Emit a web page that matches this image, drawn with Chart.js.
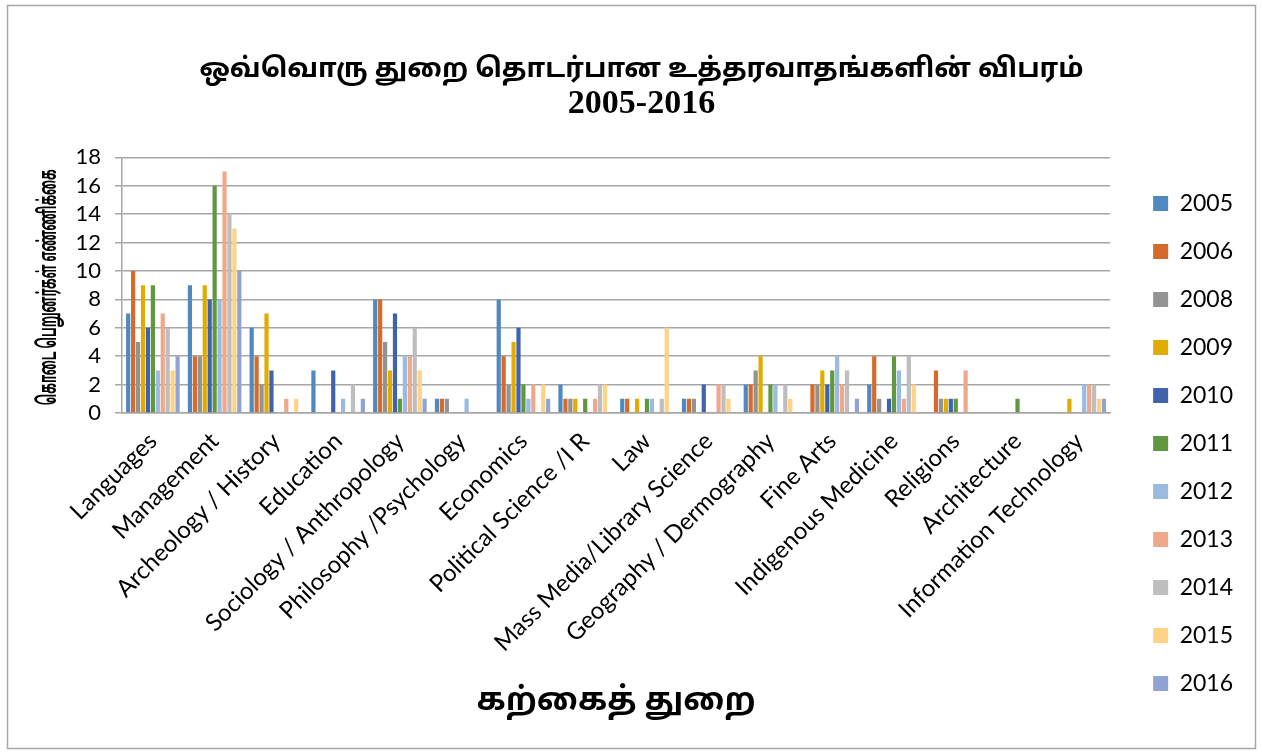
<!DOCTYPE html>
<html>
<head>
<meta charset="utf-8">
<script src="https://cdn.jsdelivr.net/npm/chart.js@4/dist/chart.umd.min.js"></script>
<style>
  body { margin: 0; background: #fff; }
  #wrap { position: relative; width: 1262px; height: 755px; }
</style>
</head>
<body>
<div id="wrap"><canvas id="fieldChart" width="1262" height="755"></canvas></div>
<script>
// categories (x axis)
const categories = [
    'Languages', 'Management', 'Archeology / History', 'Education',
    'Sociology / Anthropology', 'Philosophy /Psychology', 'Economics',
    'Political Science /I R', 'Law', 'Mass Media/Library Science',
    'Geography / Dermography', 'Fine Arts', 'Indigenous Medicine',
    'Religions', 'Architecture', 'Information Technology'
];

const years = ['2005', '2006', '2008', '2009', '2010', '2011', '2012', '2013', '2014', '2015', '2016'];

// one array per year, same order as categories
const y2005 = [7, 9, 6, 3, 8, 1, 8, 2, 1, 1, 2, 0, 2, 0, 0, 0];
const y2006 = [10, 4, 4, 0, 8, 1, 4, 1, 1, 1, 2, 2, 4, 3, 0, 0];
const y2008 = [5, 4, 2, 0, 5, 1, 2, 1, 0, 1, 3, 2, 1, 1, 0, 0];
const y2009 = [9, 9, 7, 0, 3, 0, 5, 1, 1, 0, 4, 3, 0, 1, 0, 1];
const y2010 = [6, 8, 3, 3, 7, 0, 6, 0, 0, 2, 0, 2, 1, 1, 0, 0];
const y2011 = [9, 16, 0, 0, 1, 0, 2, 1, 1, 0, 2, 3, 4, 1, 1, 0];
const y2012 = [3, 8, 0, 1, 4, 1, 1, 0, 1, 0, 2, 4, 3, 0, 0, 2];
const y2013 = [7, 17, 1, 0, 4, 0, 2, 1, 0, 2, 0, 2, 1, 3, 0, 2];
const y2014 = [6, 14, 0, 2, 6, 0, 0, 2, 1, 2, 2, 3, 4, 0, 0, 2];
const y2015 = [3, 13, 1, 0, 3, 0, 2, 2, 6, 1, 1, 0, 2, 0, 0, 1];
const y2016 = [4, 10, 0, 1, 1, 0, 1, 0, 0, 0, 0, 1, 0, 0, 0, 1];

const yearValues = [y2005, y2006, y2008, y2009, y2010, y2011, y2012, y2013, y2014, y2015, y2016];
const yearColors = ['#5089c1', '#d56b2b', '#939393', '#e2ab00', '#3f64ad', '#5f983f',
                    '#9abae0', '#f0a88b', '#bebebe', '#fed386', '#8fa4d4'];

const yTicks = [0, 2, 4, 6, 8, 10, 12, 14, 16, 18];
const yTitle = 'கொடை பெறுனர்கள் எண்ணிக்கை';

const tamilFont = "'Noto Sans Tamil', 'Noto Serif Tamil', 'Lohit Tamil', 'Latha', 'Liberation Serif', serif";
const labelFont = "Lato, 'Open Sans', 'Liberation Sans', sans-serif";

// thin frame round the whole chart
const framePlugin = {
    id: 'frame',
    beforeDraw(chart) {
        const c = chart.ctx;
        c.save();
        c.fillStyle = '#fff';
        c.fillRect(0, 0, chart.width, chart.height);
        c.strokeStyle = '#a6a6a6';
        c.lineWidth = 1.5;
        c.strokeRect(7.5, 5.5, 1248, 743);
        c.restore();
    }
};

// y title in a narrow bold face, squeezed to the plot height like the original
const yTitlePlugin = {
    id: 'yTitle',
    afterDraw(chart) {
        const c = chart.ctx;
        const area = chart.chartArea;
        const midY = (area.top + area.bottom) / 2 + 2;
        c.save();
        c.font = 'bold 25px ' + tamilFont;
        const w = c.measureText(yTitle).width;
        c.translate(51, midY);
        c.rotate(-Math.PI / 2);
        c.scale(236 / w, 1);
        c.fillStyle = '#000';
        c.textAlign = 'center';
        c.textBaseline = 'middle';
        c.fillText(yTitle, 0, 0);
        c.restore();
    }
};

const datasets = years.map((yr, i) => ({
    label: yr,
    data: yearValues[i],
    backgroundColor: yearColors[i],
    borderWidth: 0,
    barPercentage: 0.85,
    categoryPercentage: 0.88
}));

new Chart(document.getElementById('fieldChart').getContext('2d'), {
    type: 'bar',
    data: { labels: categories, datasets },
    plugins: [framePlugin, yTitlePlugin],
    options: {
        responsive: false,
        animation: false,
        layout: { padding: { top: 20, left: 40, right: 19, bottom: 35 } },
        plugins: {
            title: {
                display: true,
                text: 'ஒவ்வொரு துறை தொடர்பான உத்தரவாதங்களின் விபரம்',
                color: '#000',
                font: { family: tamilFont, size: 27, weight: 'bold', lineHeight: 1.1 },
                padding: { top: 37, bottom: 0 }
            },
            subtitle: {
                display: true,
                text: '2005-2016',
                color: '#000',
                font: { family: "'Liberation Serif', serif", size: 34, weight: 'bold', lineHeight: 1.05 },
                padding: { top: 0, bottom: 35 }
            },
            legend: {
                position: 'right',
                align: 'end',
                labels: {
                    color: '#000',
                    boxWidth: 15,
                    boxHeight: 15,
                    padding: 25,
                    font: { family: labelFont, size: 23 }
                }
            },
            tooltip: { enabled: false }
        },
        scales: {
            x: {
                grid: { display: false },
                border: { color: '#a6a6a6', width: 1.5 },
                afterFit: axis => { axis.height = 307; },
                ticks: {
                    color: '#000',
                    minRotation: 45,
                    maxRotation: 45,
                    autoSkip: false,
                    padding: 6,
                    font: { family: labelFont, size: 24 }
                },
                title: {
                    display: true,
                    text: 'கற்கைத் துறை',
                    color: '#000',
                    font: { family: tamilFont, size: 32, weight: 'bold', lineHeight: 1.0 },
                    padding: { top: 0, bottom: 0 }
                }
            },
            y: {
                min: 0,
                max: 18,
                afterBuildTicks: axis => { axis.ticks = yTicks.map(v => ({ value: v })); },
                afterFit: axis => { axis.width = 82; },
                grid: { color: '#a6a6a6', lineWidth: 1.5, tickLength: 7 },
                border: { color: '#a6a6a6', width: 1.5 },
                ticks: {
                    color: '#000',
                    autoSkip: false,
                    font: { family: labelFont, size: 22, lineHeight: 1 },
                    padding: 14
                }
            },
            // empty spacer between the plot and the legend
            gap: {
                type: 'linear',
                position: 'right',
                grid: { display: false },
                border: { display: false },
                ticks: { display: false },
                afterFit: axis => { axis.width = 18; }
            }
        }
    }
});
</script>
</body>
</html>
